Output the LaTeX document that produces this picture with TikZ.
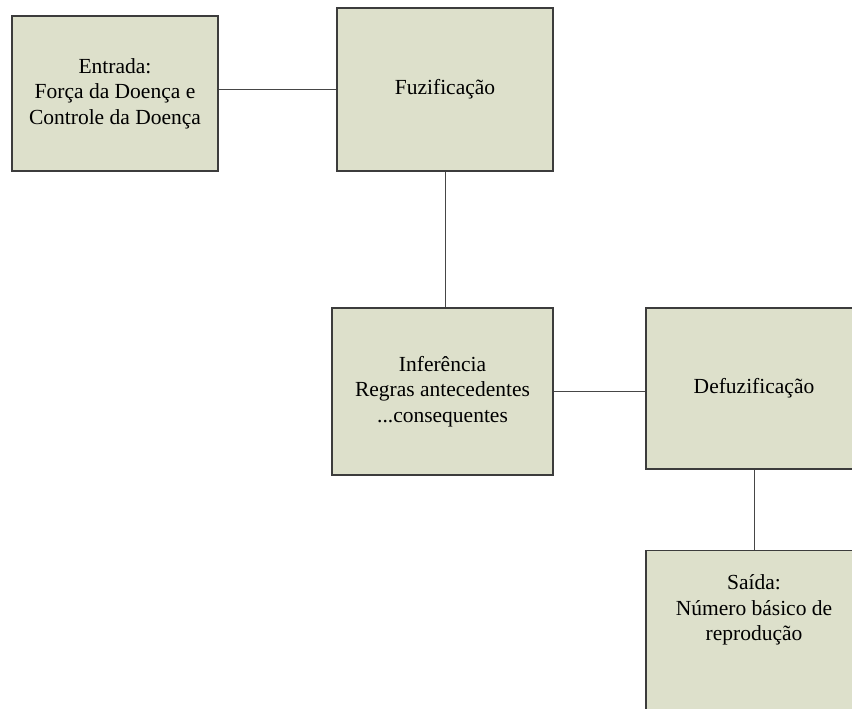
\documentclass[tikz,border=0pt]{standalone}
\usepackage{fontspec}
\setmainfont{Liberation Serif}
\usepackage{tikz}
\usetikzlibrary{positioning}
\definecolor{boxfill}{RGB}{221,224,203}
\definecolor{boxline}{RGB}{60,60,60}
\definecolor{linkline}{RGB}{70,70,70}

\begin{document}
\begin{tikzpicture}[x=1pt,y=-1pt,
  block/.style={rectangle,draw=boxline,fill=boxfill,line width=1.2pt,
    align=center,font=\fontsize{21.5}{25.5}\selectfont},
  label text/.style={align=center,font=\fontsize{21.5}{25.5}\selectfont},
  link/.style={draw=linkline,line width=0.9pt}]
  \useasboundingbox (0,0) rectangle (852,709);
  \clip (0,0) rectangle (852,709);

  \node[block,minimum width=206pt,minimum height=155pt] (entrada) at (115,93.5)
    {Entrada:\\Força da Doença e\\Controle da Doença};
  \node[block,minimum width=216pt,minimum height=163pt] (fuz) at (445,89.5)
    {Fuzificação};
  \node[block,minimum width=221pt,minimum height=167pt] (inf) at (442.5,391.5)
    {Inferência\\Regras antecedentes\\...consequentes};
  \node[block,minimum width=216pt,minimum height=161pt] (defuz) at (754,388.5)
    {Defuzificação};
  \node[block,minimum width=216pt,minimum height=175pt,anchor=north] (saida) at (754,550) {};
  \node[label text] (saidatext) at ([yshift=-60pt]saida.north)
    {Saída:\\Número básico de\\reprodução};

  \path[link]
    (fuz.west -| entrada.east) edge (fuz.west)
    (fuz.south) edge (fuz.south |- inf.north)
    (inf.east) edge (inf.east -| defuz.west)
    (defuz.south) edge (saida.north);
\end{tikzpicture}
\end{document}
